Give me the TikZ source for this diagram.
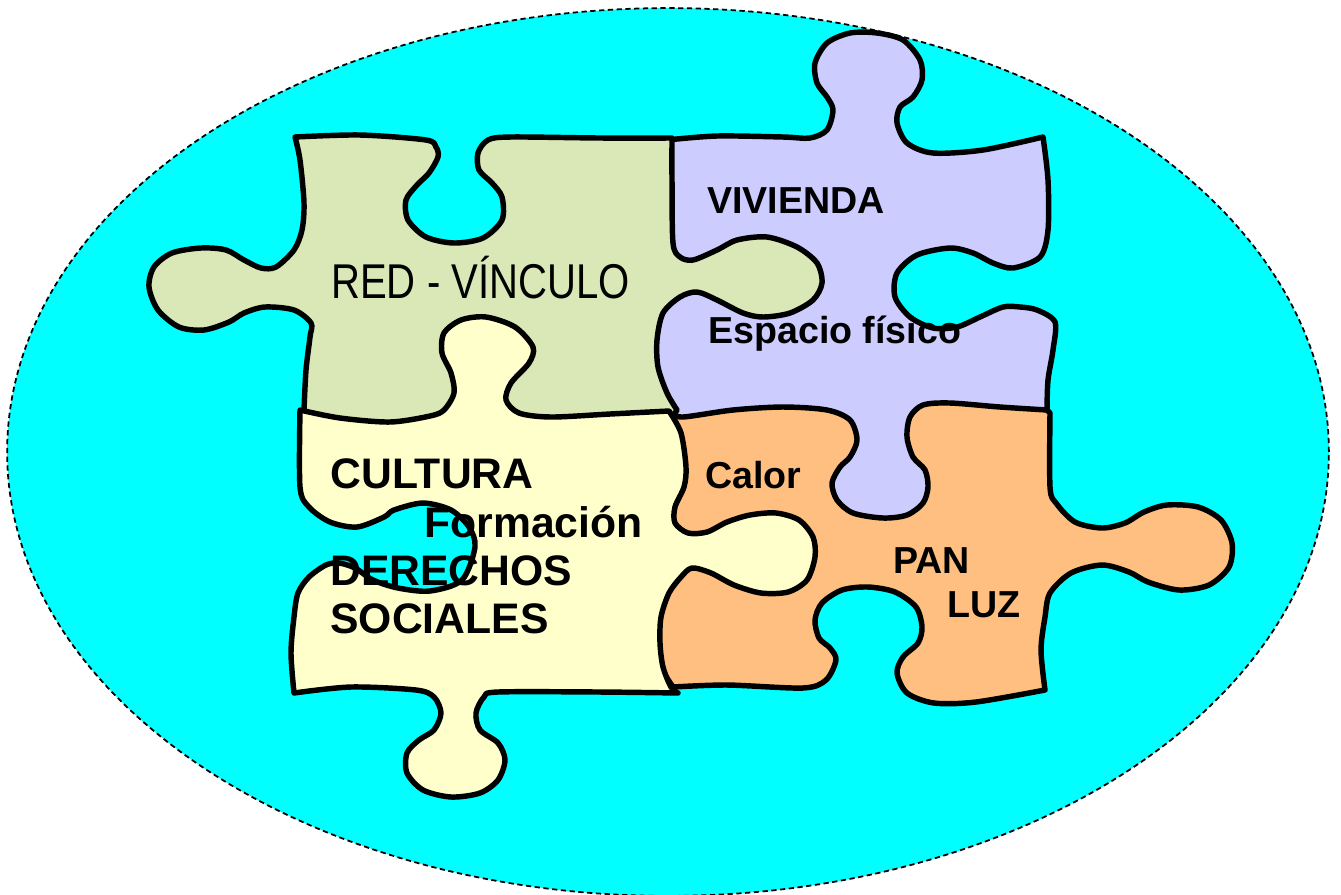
\documentclass[tikz,border=0pt]{standalone}
\usepackage{fontspec}
\setmainfont{Liberation Sans}
\newfontfamily\narrowfont[FakeStretch=0.82]{Liberation Sans}
\usepackage{tikz}

\definecolor{skyfill}{RGB}{0,255,255}
\definecolor{redfill}{RGB}{217,232,182}
\definecolor{houseviolet}{RGB}{204,204,255}
\definecolor{culturefill}{RGB}{255,255,204}
\definecolor{breadorange}{RGB}{255,191,128}

\begin{document}
\begin{tikzpicture}[x=0.02cm,y=-0.02cm,line join=round,
  piece/.style={draw=black,line width=3.1pt}]
  \tikzstyle{bigword}=[inner sep=0pt,anchor=base west,font=\bfseries\fontsize{24.3pt}{26pt}\selectfont]
  \tikzstyle{smallword}=[inner sep=0pt,anchor=base west,font=\bfseries\fontsize{21.4pt}{23pt}\selectfont]

  \useasboundingbox (0,0) rectangle (1341,894);
  \draw[fill=skyfill,line width=1pt,dash pattern=on 3pt off 2pt]
    (668,452) ellipse [x radius=13.22cm, y radius=8.88cm];

  \draw[piece,fill=breadorange] (673,413) -- (700,398) -- (1035,398) -- (1050,413)
    -- plot[smooth] coordinates {(1050,413) (1050,487) (1056,503) (1075,522) (1102,528)
       (1125,523) (1144,512) (1167,505) (1198,507) (1221,520) (1232,543) (1229,567)
       (1209,585) (1179,590) (1148,582) (1129,572) (1102,565) (1071,573) (1050,593)
       (1045,617) (1041,650) (1045,690)}
    -- plot[smooth] coordinates {(1045,690) (976,702) (934,703) (907,693) (897,673)
       (903,657) (918,643) (922,627) (916,607) (895,592) (868,587) (842,590) (822,603)
       (815,620) (819,638) (830,648) (836,660) (826,680) (803,688) (727,685) (673,687)}
    -- (648,650) -- (648,440) -- cycle;

  \draw[piece,fill=houseviolet] (645,150) -- (667,140)
    -- plot[smooth] coordinates {(667,140) (717,136) (783,137) (810,138) (827,130)
       (833,110) (827,97) (817,83) (815,63) (827,43) (850,33) (877,33) (903,40)
       (920,60) (922,80) (913,97) (900,107) (897,123) (907,143) (933,153) (983,150)
       (1043,137)}
    -- plot[smooth] coordinates {(1043,137) (1048,180) (1048,230) (1040,257) (1013,268)
       (993,263) (973,253) (950,248) (917,255) (897,273) (895,297) (910,317) (933,328)
       (957,327) (980,317) (1003,307) (1020,307) (1037,310) (1055,322) (1053,350)
       (1048,380) (1047,410)}
    -- plot[smooth] coordinates {(1047,410) (1000,407) (950,403) (923,405) (910,417)
       (907,437) (913,457) (925,470) (928,487) (923,503) (907,515) (883,518) (853,513)
       (837,500) (832,483) (840,467) (850,457) (857,440) (850,420) (827,410) (783,407)
       (733,410) (683,417) (673,413)}
    -- (645,400) -- cycle;

  \draw[piece,fill=redfill]
    plot[smooth] coordinates {(295,137) (360,135) (426,140) (436,147) (438,157)
       (429,173) (417,185) (406,200) (408,220) (426,237) (454,243) (483,238) (502,220)
       (502,197) (492,183) (479,170) (478,153) (488,140) (511,137) (600,138) (672,138)}
    -- plot[smooth] coordinates {(672,138) (672,180) (673,243) (680,257) (693,260)
       (717,250) (737,240) (767,237) (797,247) (817,263) (822,283) (813,300) (790,313)
       (763,317) (743,313) (717,300) (697,292) (680,297) (663,313) (657,340) (658,367)
       (667,393) (677,410)}
    -- (662,432) -- (320,432) -- (304,410)
    -- plot[smooth] coordinates {(304,410) (306,370) (310,337) (311,323) (294,310)
       (265,307) (244,313) (229,322) (204,330) (179,327) (158,310) (149,287) (154,267)
       (172,253) (201,248) (226,250) (244,260) (261,268) (276,267) (294,250) (302,230)
       (304,203) (300,160) (295,137)}
    -- cycle;

  \draw[piece,fill=culturefill]
    plot[smooth] coordinates {(300,410) (340,418) (390,422) (430,416) (444,410)
       (454,393) (451,373) (442,353) (444,333) (461,320) (486,317) (515,327) (533,347)
       (529,363) (511,383) (506,400) (519,413) (551,417) (610,414) (669,411)}
    -- plot[smooth] coordinates {(669,411) (681,433) (686,467) (684,487) (675,507)
       (675,523) (688,533) (707,532) (727,522) (750,515) (776,513) (799,520) (813,537)
       (815,557) (807,580) (788,592) (761,593) (734,585) (711,573) (692,568) (681,577)
       (669,593) (661,617) (660,643) (663,667) (671,687) (678,693)}
    -- plot[smooth] coordinates {(678,693) (600,692) (498,692) (484,697) (476,713)
       (480,730) (498,743) (505,760) (498,780) (480,793) (451,797) (423,790) (407,773)
       (407,753) (419,740) (434,730) (441,713) (434,697) (416,690) (351,687) (294,693)}
    -- plot[smooth] coordinates {(294,693) (291,653) (294,617) (298,593) (309,577)
       (326,565) (339,563) (355,568) (373,580) (398,588) (430,591) (462,580) (475,547)
       (469,527) (451,510) (423,503) (394,510) (384,517) (357,527) (330,522) (309,507)
       (300,487) (300,410)}
    -- cycle;

  \node[inner sep=0pt,anchor=base west,font=\narrowfont\fontsize{27.8pt}{30pt}\selectfont]
    (red) at (331,298) {RED - VÍNCULO};
  \node[smallword] (vivienda) at (707,213) {VIVIENDA};
  \node[smallword] (espacio) at (708,343) {Espacio físico};
  \node[smallword] (calor) at (705,488) {Calor};
  \node[smallword] (pan) at (893,573) {PAN};
  \node[smallword] (luz) at (947,617) {LUZ};
  \node[bigword] (cultura) at (330,488) {CULTURA};
  \node[bigword] (formacion) at (424,537) {Formación};
  \node[bigword] (derechos) at (330,585) {DERECHOS};
  \node[bigword] (sociales) at (330,633) {SOCIALES};
\end{tikzpicture}
\end{document}
